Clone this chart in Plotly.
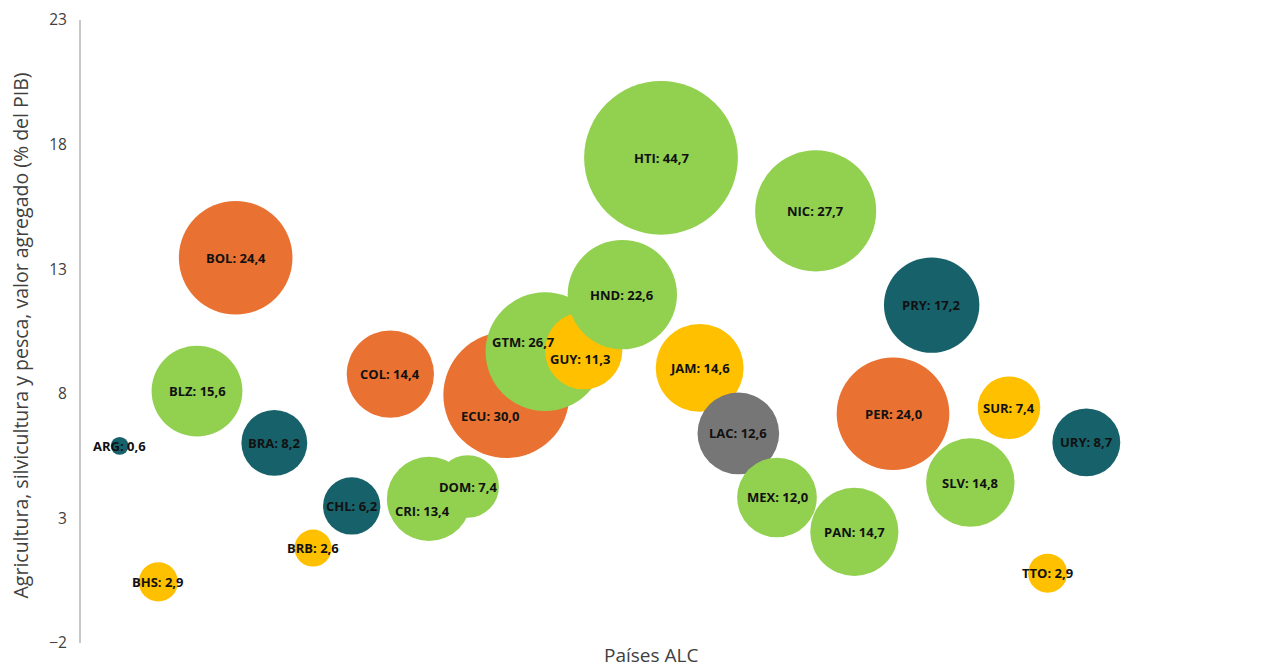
import plotly.graph_objects as go

# ---- data ----
countries = ["ARG", "BHS", "BLZ", "BOL", "BRA", "BRB", "CHL", "COL", "CRI", "DOM",
             "ECU", "GTM", "GUY", "HND", "HTI", "JAM", "LAC", "MEX", "NIC", "PAN",
             "PER", "PRY", "SLV", "SUR", "TTO", "URY"]
x_index = list(range(1, 27))
agri_gdp = [5.91, 0.45, 8.11, 13.46, 6.03, 1.81, 3.50, 8.79, 3.78, 4.28,
            7.95, 9.69, 9.73, 11.98, 17.47, 9.04, 6.41, 3.84, 15.34, 2.46,
            7.20, 11.56, 4.44, 7.44, 0.80, 6.05]
bubble_value = [0.6, 2.9, 15.6, 24.4, 8.2, 2.6, 6.2, 14.4, 13.4, 7.4,
                30.0, 26.7, 11.3, 22.6, 44.7, 14.6, 12.6, 12.0, 27.7, 14.7,
                24.0, 17.2, 14.8, 7.4, 2.9, 8.7]
group = ["teal", "yellow", "green", "orange", "teal", "yellow", "teal", "orange", "green", "green",
         "orange", "green", "yellow", "green", "green", "yellow", "gray", "green", "green", "green",
         "orange", "teal", "green", "yellow", "yellow", "teal"]
y_ticks = [-2, 3, 8, 13, 18, 23]

# ---- styles ----
palette = {"green": "#92D050", "orange": "#E97132", "teal": "#17616A",
           "yellow": "#FFC000", "gray": "#767676"}
label_shift = {"CRI": (-7, -12), "ECU": (-16, -21), "GTM": (-22, 10), "GUY": (-4, -8)}

fig = go.Figure()
fig.add_trace(go.Scatter(
    x=x_index, y=agri_gdp, mode="markers",
    marker=dict(size=bubble_value, sizemode="area", sizeref=2 / 23 ** 2,
                color=[palette[g] for g in group], opacity=1,
                line=dict(width=0)),
    hoverinfo="skip", showlegend=False,
))

def fmt(v):
    return f"{v:.1f}".replace(".", ",")

annotations = []
for c, xi, yi, v in zip(countries, x_index, agri_gdp, bubble_value):
    dx, dy = label_shift.get(c, (0, 0))
    annotations.append(dict(
        x=xi, y=yi, xref="x", yref="y", text=f"<b>{c}: {fmt(v)}</b>",
        showarrow=False, xshift=dx, yshift=dy,
        font=dict(family="Open Sans", size=13, color="#111111"),
    ))

annotations.append(dict(
    x=0, y=0.5, xref="paper", yref="paper", xshift=-61, yshift=-4,
    text="Agricultura, silvicultura y pesca, valor agregado (% del PIB)",
    textangle=-90, showarrow=False, xanchor="center", yanchor="middle",
    font=dict(family="Open Sans", size=19.5, color="#404040"),
))
annotations.append(dict(
    x=0.5, y=0, xref="paper", yref="paper", xshift=-10, yshift=-12,
    text="Países ALC", showarrow=False, xanchor="center", yanchor="middle",
    font=dict(family="Open Sans", size=19, color="#404040"),
))

fig.update_layout(
    width=1273, height=660,
    margin=dict(l=73, r=40, t=12, b=25),
    paper_bgcolor="white", plot_bgcolor="white",
    annotations=annotations,
    xaxis=dict(range=[0, 30], visible=False, automargin=False),
    yaxis=dict(range=[-2, 23], tickvals=y_ticks, showgrid=False, zeroline=False,
               showline=True, linecolor="#C8C8C8", linewidth=2, automargin=False,
               ticks="", ticklabelstandoff=9,
               tickfont=dict(family="Open Sans", size=15.5, color="#404040")),
)

fig.write_html("out.html")
